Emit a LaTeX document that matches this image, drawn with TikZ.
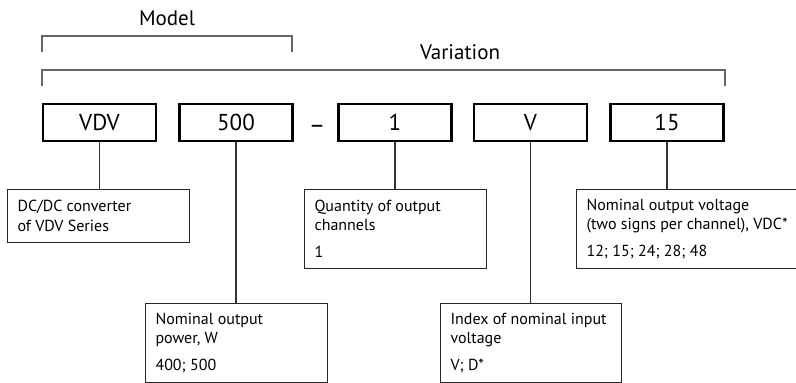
\documentclass[tikz,border=0pt]{standalone}
\usepackage{fontspec}
\setmainfont{PT Sans}
\begin{document}
\begin{tikzpicture}[x=1pt,y=-1pt,
  codebox/.style={draw=black,line width=2.2pt,minimum width=113pt,minimum height=37pt,inner sep=0pt,font=\fontsize{23}{26}\selectfont},
  descbox/.style={draw=black!85,line width=1.1pt,anchor=north west,align=flush left,inner xsep=10pt,inner ysep=0pt,font=\fontsize{16}{19.5}\selectfont},
  conn/.style={draw=black!80,line width=1.2pt},
  brk/.style={draw=black!60,line width=1.2pt},
  lbl/.style={font=\fontsize{21}{24}\selectfont}]
\useasboundingbox (0,0) rectangle (796,383);
% code boxes
\node[codebox] (vdv) at (99.5,122.5) {VDV};
\node[codebox] (p500) at (236,122.5) {500};
\node[font=\fontsize{25}{28}\selectfont] (dash) at (317,129) {–};
\node[codebox] (ch1) at (395,122.5) {1};
\node[codebox] (vin) at (530.5,122.5) {V};
\node[codebox] (vout) at (667,122.5) {15};
% labels and brackets
\node[lbl] (model) at (167,18) {Model};
\node[lbl] (variation) at (460,52) {Variation};
\coordinate (ma) at (42,52);
\coordinate (mb) at (42,36);
\coordinate (mc) at (292,36);
\coordinate (md) at (292,52);
\draw[brk] (ma) -- (mb) -- (mc) -- (md);
\coordinate (va) at (42,86);
\coordinate (vb) at (42,70);
\coordinate (vc) at (725,70);
\coordinate (vd) at (725,86);
\draw[brk] (va) -- (vb) -- (vc) -- (vd);
% description boxes
\node[descbox,text width=162pt,minimum height=53pt] (dvdv) at (7,189) {DC/DC converter\\of VDV Series};
\node[descbox,text width=162pt,minimum height=79pt] (dp500) at (145,303) {Nominal output\\power, W\\[7.5pt]400; 500};
\node[descbox,text width=162pt,minimum height=79pt] (dch1) at (304,189) {Quantity of output\\channels\\[7.5pt]1};
\node[descbox,text width=161pt,minimum height=79pt] (dvin) at (440,303) {Index of nominal input\\voltage\\[7.5pt]V; D*};
\node[descbox,text width=212pt,minimum height=79pt] (dvout) at (576,189) {Nominal output voltage\\(two signs per channel), VDC*\\[7.5pt]12; 15; 24; 28; 48};
% connectors
\draw[conn] (vdv.south) -- (vdv.south |- dvdv.north);
\draw[conn] (p500.south) -- (p500.south |- dp500.north);
\draw[conn] (ch1.south) -- (ch1.south |- dch1.north);
\draw[conn] (vin.south) -- (vin.south |- dvin.north);
\draw[conn] (vout.south) -- (vout.south |- dvout.north);
\end{tikzpicture}
\end{document}
